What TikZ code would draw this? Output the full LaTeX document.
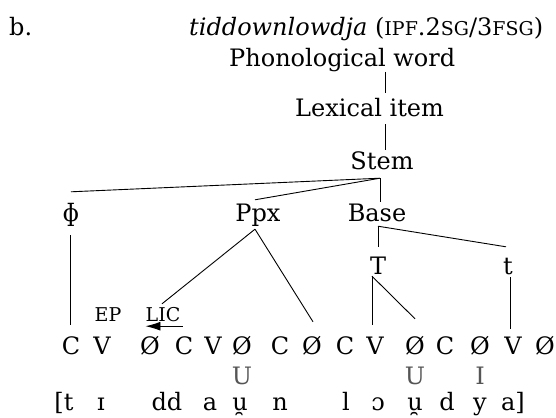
\documentclass[tikz,border=0pt]{standalone}
\usepackage{fontspec}
\setmainfont{DejaVu Serif}
\usetikzlibrary{arrows.meta}
\definecolor{grayU}{HTML}{555555}
\newcommand\mainsz{\fontsize{24}{29}\selectfont}
\newcommand\smallsz{\fontsize{19}{23}\selectfont}
\newcommand\fsc[1]{{\fontsize{19}{20}\selectfont #1}}
\begin{document}
\begin{tikzpicture}[x=1pt,y=-1pt,
  lab/.style={inner sep=0pt, anchor=base, font=\mainsz, text height=17pt, text depth=0pt},
  sm/.style={lab, font=\smallsz, text height=14pt},
  gr/.style={lab, text=grayU},
  ln/.style={line width=0.9pt}]
\useasboundingbox (0,0) rectangle (556,417);
% header
\node[lab, anchor=base west] (ex) at (9,36) {b.};
\node[lab, anchor=base west] (title) at (189,36) {\textit{tiddownlowdja} (\fsc{IPF}.2\fsc{SG}/3\fsc{FSG})};
% tree
\node[lab, anchor=base west] (pw) at (229,67) {Phonological word};
\node[lab, anchor=base west] (lex) at (295,117) {Lexical item};
\node[lab] (stem) at (382,169) {Stem};
\node[lab] (phi) at (71,221) {ɸ};
\node[lab] (ppx) at (258,221) {Ppx};
\node[lab] (base) at (377,221) {Base};
\node[lab] (T) at (378,274) {T};
\node[lab] (tt) at (508,274) {t};
\node[sm] (ep) at (108,321) {EP};
\node[sm] (lic) at (163,321) {LIC};
% skeleton
\foreach \n/\x/\s in {1/71/C,2/102/V,3/150/Ø,4/184/C,5/213/V,6/242/Ø,7/280/C,8/312/Ø,9/345/C,10/375/V,11/415/Ø,12/445/C,13/480/Ø,14/513/V,15/545/Ø}
  \node[lab] (cv\n) at (\x,354) {\s};
% elements
\node[gr] (u1) at (242,384) {U};
\node[gr] (u2) at (415,384) {U};
\node[gr] (i1) at (480,384) {I};
% surface
\foreach \n/\x/\s in {1/64/[t,2/101/ɪ,3/167/dd,4/210/a,5/240/u̯,6/280/n,7/346/l,8/378/ɔ,9/415/u̯,10/447/d,11/480/y,12/513/a]}
  \node[lab] (s\n) at (\x,410) {\s};
% junctions
\coordinate (vx) at ([xshift=3pt]stem.south);
\coordinate (pwb) at ([yshift=-5pt]pw.base);
\coordinate (lext) at ([yshift=7pt]lex.north);
\coordinate (lexb) at ([yshift=-7pt]lex.base);
\coordinate (sj) at ([xshift=-2pt,yshift=-9pt]stem.south);
\coordinate (pj) at ([xshift=-3pt,yshift=-8pt]ppx.south);
\coordinate (bj) at ([xshift=1pt,yshift=-5pt]base.south);
\coordinate (tj) at ([xshift=-6pt,yshift=-2pt]T.south);
% connectors
\draw[ln] (vx |- pwb) -- (vx |- lext);
\draw[ln] (vx |- lexb) -- ([xshift=3pt,yshift=2pt]stem.north);
\draw[ln] (sj) -- ([yshift=12pt]phi.north);
\draw[ln] (sj) -- ([xshift=-3pt,yshift=4pt]ppx.north);
\draw[ln] (sj) -- ([xshift=3pt,yshift=2pt]base.north);
\draw[ln] (pj) -- ([xshift=-1pt,yshift=3pt]lic.north);
\draw[ln] (pj) -- ([xshift=1pt,yshift=15pt]cv8.north);
\draw[ln] (bj) -- ([yshift=10pt]T.north);
\draw[ln] (bj) -- ([xshift=-2pt,yshift=10pt]tt.north);
\draw[ln] ([xshift=-1pt,yshift=-14pt]phi.south) -- ([xshift=-1pt,yshift=12pt]cv1.north);
\draw[ln] (tj) -- ([xshift=-3pt,yshift=12pt]cv10.north);
\draw[ln] (tj) -- ([yshift=18pt]cv11.north);
\draw[ln] ([xshift=2pt,yshift=-3pt]tt.south) -- ([xshift=-3pt,yshift=8pt]cv14.north);
\draw[ln,-{Latex[length=15pt,width=9pt]}] ([xshift=2pt,yshift=-5pt]lic.south east) -- ([yshift=-5pt]lic.south west);
\end{tikzpicture}
\end{document}
